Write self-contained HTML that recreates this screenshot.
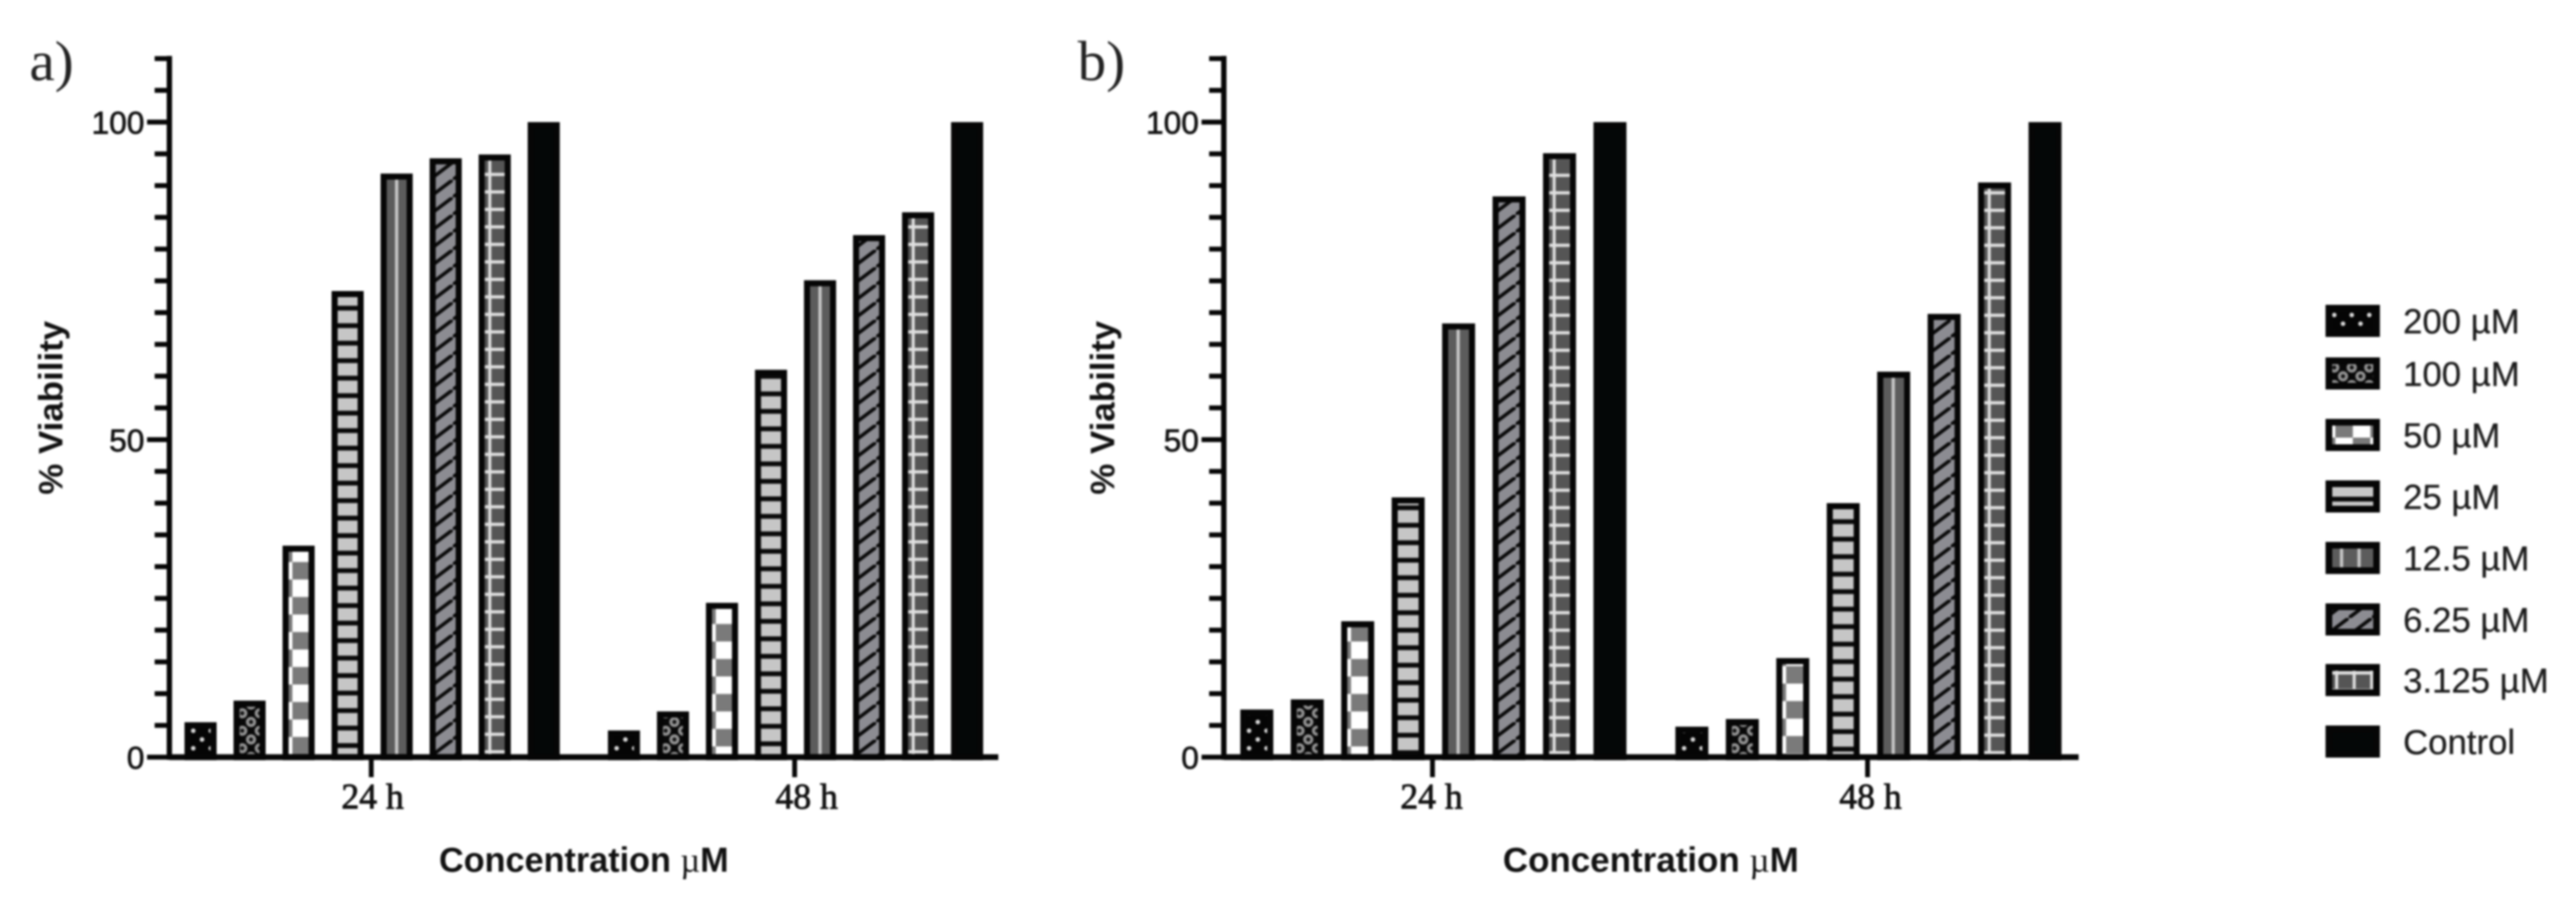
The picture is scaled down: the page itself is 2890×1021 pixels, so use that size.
<!DOCTYPE html>
<html lang="en">
<head>
<meta charset="utf-8">
<title>Cell viability at 24 h and 48 h</title>
<style>
html,body{margin:0;padding:0;background:#fff;width:2890px;height:1021px;overflow:hidden}
svg{display:block;filter:blur(1.1px)}
.sans{font-family:"Liberation Sans",sans-serif}
.serif{font-family:"Liberation Serif",serif}
</style>
</head>
<body>
<svg id="figure" xmlns="http://www.w3.org/2000/svg" width="2890" height="1021" viewBox="0 0 2890 1021">
  <defs>
    <pattern id="p0" patternUnits="userSpaceOnUse" width="19.63" height="19.63">
      <rect width="19.63" height="19.63" fill="#050505"/>
      <circle cx="9.8" cy="0" r="2.6" fill="#d8d8d8"/><circle cx="9.8" cy="19.63" r="2.6" fill="#d8d8d8"/>
      <circle cx="0" cy="9.8" r="2.6" fill="#d8d8d8"/><circle cx="19.63" cy="9.8" r="2.6" fill="#d8d8d8"/>
    </pattern>
    <pattern id="p1" patternUnits="userSpaceOnUse" width="19.63" height="19.63">
      <rect width="19.63" height="19.63" fill="#080808"/>
      <g fill="#111" stroke="#939393" stroke-width="3.4">
        <circle cx="9.8" cy="0" r="4"/><circle cx="9.8" cy="19.63" r="4"/>
        <circle cx="0" cy="9.8" r="4"/><circle cx="19.63" cy="9.8" r="4"/>
      </g>
    </pattern>
    <pattern id="p2" patternUnits="userSpaceOnUse" x="11" width="39.26" height="39.26">
      <rect width="39.26" height="39.26" fill="#fff"/>
      <rect x="0" y="19.63" width="19.63" height="19.63" fill="#7a7a7a"/>
      <rect x="19.63" y="0" width="19.63" height="19.63" fill="#7a7a7a"/>
    </pattern>
    <pattern id="p3" patternUnits="userSpaceOnUse" width="19.63" height="19.63">
      <rect width="19.63" height="19.63" fill="#c6c6c6"/>
      <rect y="0" width="19.63" height="2.7" fill="#0a0a0a"/>
      <rect y="16.93" width="19.63" height="2.7" fill="#0a0a0a"/>
    </pattern>
    <pattern id="p4" patternUnits="userSpaceOnUse" x="8.2" width="19.63" height="19.63">
      <rect width="19.63" height="19.63" fill="#5c5c5c"/>
      <rect x="8" width="3.6" height="19.63" fill="#c8c8c8"/>
    </pattern>
    <pattern id="p5" patternUnits="userSpaceOnUse" width="26" height="19.63">
      <rect width="26" height="19.63" fill="#8c8c92"/>
      <path d="M-6.5 24.5 L6.5 14.7 M0 19.63 L26 0 M19.5 4.9 L32.5 -4.9" stroke="#0a0a0a" stroke-width="4" fill="none"/>
    </pattern>
    <pattern id="p6" patternUnits="userSpaceOnUse" x="2.7" width="19.63" height="19.63">
      <rect width="19.63" height="19.63" fill="#555"/>
      <rect x="8.1" width="3.4" height="19.63" fill="#e0e0e0"/>
      <rect y="0" width="19.63" height="1.8" fill="#e0e0e0"/>
      <rect y="17.83" width="19.63" height="1.8" fill="#e0e0e0"/>
    </pattern>
    <pattern id="p7" patternUnits="userSpaceOnUse" width="10" height="10">
      <rect width="10" height="10" fill="#040707"/>
    </pattern>
  </defs>

  <text class="serif" x="33" y="90" font-size="64" fill="#222">a)</text>
  <text class="serif" x="1209" y="90" font-size="64" fill="#222">b)</text>

  <text class="sans" font-weight="700" font-size="38" fill="#111" transform="translate(70 555) rotate(-90)" textLength="195" lengthAdjust="spacingAndGlyphs">% Viability</text>
  <text class="sans" font-weight="700" font-size="38" fill="#111" transform="translate(1250 555) rotate(-90)" textLength="195" lengthAdjust="spacingAndGlyphs">% Viability</text>

  <text class="sans" font-weight="700" font-size="39" fill="#111" x="492.5" y="978" textLength="325" lengthAdjust="spacingAndGlyphs">Concentration <tspan class="serif" font-weight="400">µ</tspan>M</text>
  <text class="sans" font-weight="700" font-size="39" fill="#111" x="1686" y="978" textLength="332" lengthAdjust="spacingAndGlyphs">Concentration <tspan class="serif" font-weight="400">µ</tspan>M</text>

  <g id="panel-a"></g>
  <g id="panel-b"></g>
  <g id="legend"></g>
</svg>

<script>
const seriesNames = ["200 µM", "100 µM", "50 µM", "25 µM", "12.5 µM", "6.25 µM", "3.125 µM", "Control"];
const groupLabels = ["24 h", "48 h"];
const panelA24h = [5.5, 8.9, 33.3, 73.4, 91.9, 94.3, 94.9, 100];
const panelA48h = [4.2, 7.2, 24.3, 61, 75.1, 82.2, 85.8, 100];
const panelB24h = [7.5, 9.1, 21.4, 40.9, 68.3, 88.3, 95.1, 100];
const panelB48h = [4.8, 6, 15.6, 40, 60.7, 69.8, 90.5, 100];
const yMajorTicks = [0, 50, 100];
const yMinorTicks = [5, 10, 15, 20, 25, 30, 35, 40, 45, 55, 60, 65, 70, 75, 80, 85, 90, 95, 105, 110];

const NS = 'http://www.w3.org/2000/svg';
const BASELINE = 849.5;
const PX_PER_UNIT = 7.125;
const BAR_STROKE = 6.8;
const yScale = function (v) { return BASELINE - v * PX_PER_UNIT; };

function make(tag, parent, attrs) {
  const node = document.createElementNS(NS, tag);
  Object.keys(attrs).forEach(function (k) { node.setAttribute(k, attrs[k]); });
  parent.appendChild(node);
  return node;
}

function slug(s) {
  return s.toLowerCase().replace(/µ/g, 'u').replace(/[^a-z0-9]+/g, '-').replace(/^-|-$/g, '');
}

function drawBar(parent, name, seriesIndex, left, top, width, bottom, strokeW, phaseX, phaseY) {
  const g = make('g', parent, { transform: 'translate(' + (left + phaseX) + ' ' + phaseY + ')' });
  
  
  const r = make('rect', g, {
    x: strokeW / 2 - phaseX,
    y: top + strokeW / 2 - phaseY,
    width: width - strokeW,
    height: Math.max(0, bottom - top - strokeW / 2),
    fill: 'url(#p' + seriesIndex + ')',
    stroke: '#060606',
    'stroke-width': strokeW
  });
  
  
}

function drawPanel(cfg) {
  const root = document.getElementById(cfg.id);
  const axisX = cfg.axisX;

  cfg.groups.forEach(function (values, gi) {
    const start = cfg.groupStarts[gi];
    values.forEach(function (v, si) {
      const left = start + si * cfg.step;
      const phase = cfg.phases[gi][si] || 0;
      const name = cfg.id + '-bar-' + slug(groupLabels[gi]) + '-' + slug(seriesNames[si]);
      drawBar(root, name, si, left, yScale(v), cfg.barW, BASELINE, BAR_STROKE, 0, BASELINE - phase);
    });

    const tickX = start + (7 * cfg.step + cfg.barW) / 2 - 1;
    const xt = make('line', root, { x1: tickX, x2: tickX, y1: BASELINE, y2: 872, stroke: '#060606', 'stroke-width': 5.4 });
    
    

    const xl = make('text', root, {
      class: 'serif', x: cfg.labelX[gi], y: 907, 'font-size': 40, 'text-anchor': 'middle',
      fill: '#111', stroke: '#111', 'stroke-width': 0.9
    });
    xl.textContent = groupLabels[gi];
    
    
  });

  yMinorTicks.forEach(function (v) {
    const t = make('line', root, { x1: axisX - 16.5, x2: axisX, y1: yScale(v), y2: yScale(v), stroke: '#060606', 'stroke-width': 5.4 });
    
    
  });

  yMajorTicks.forEach(function (v) {
    const t = make('line', root, { x1: axisX - 25, x2: axisX, y1: yScale(v), y2: yScale(v), stroke: '#060606', 'stroke-width': 5.4 });
    
    
    const l = make('text', root, {
      class: 'sans', x: axisX - 28, y: yScale(v) + 13, 'font-size': 35.5, 'text-anchor': 'end',
      fill: '#111', stroke: '#111', 'stroke-width': 0.7
    });
    l.textContent = String(v);
    
    
  });

  const ya = make('line', root, { x1: axisX, x2: axisX, y1: yScale(110) - 3, y2: BASELINE + 3, stroke: '#060606', 'stroke-width': 6 });
  
  

  const xa = make('line', root, { x1: axisX, x2: cfg.axisEnd, y1: BASELINE, y2: BASELINE, stroke: '#060606', 'stroke-width': 6.4 });
  
  
}

drawPanel({
  id: 'panel-a',
  groups: [panelA24h, panelA48h],
  axisX: 190, axisEnd: 1120, barW: 36, step: 55,
  groupStarts: [207, 682],
  labelX: [418, 905],
  phases: [[10, 10, 3, 13, 0, 0, 6, 0], [10, 10, 12, 15, 0, 0, 6, 0]]
});

drawPanel({
  id: 'panel-b',
  groups: [panelB24h, panelB48h],
  axisX: 1373, axisEnd: 2332, barW: 37, step: 56.6,
  groupStarts: [1391.5, 1879.6],
  labelX: [1606, 2098.5],
  phases: [[10, 10, 12, 5, 0, 0, 5, 0], [10, 10, 4, 9, 0, 0, 5, 0]]
});

const legendRoot = document.getElementById('legend');
const legendTops = [342, 401, 470, 539, 608, 677, 745, 814];
seriesNames.forEach(function (name, i) {
  const top = legendTops[i];
  drawBar(legendRoot, 'legend-swatch-' + slug(name), i, 2609, top, 61, top + 33, 6, 0, top + 36 - [5, 5, 15, 15, 0, 0, 26, 0][i]);
  const edge = make('rect', legendRoot, { x: 2612.75, y: top + 3.75, width: 53.5, height: 28.5, fill: 'none', stroke: '#060606', 'stroke-width': 7.5 });
  
  
  const label = make('text', legendRoot, { class: 'sans', x: 2696, y: top + 32, 'font-size': 39, fill: '#1c1c1c', stroke: '#1c1c1c', 'stroke-width': 0.3 });
  label.textContent = name;
  
  
});
</script>
</body>
</html>
